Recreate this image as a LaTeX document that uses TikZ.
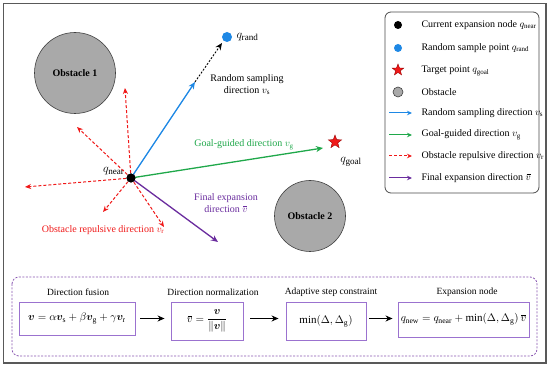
\documentclass[tikz,border=0pt]{standalone}
\usepackage{fontspec}
\setmainfont{Liberation Serif}
\usepackage{amsmath,bm}
\usetikzlibrary{arrows.meta,shapes.geometric}
\definecolor{cblue}{HTML}{1E88E5}
\definecolor{cgreen}{HTML}{1FA84A}
\definecolor{cred}{HTML}{F01818}
\definecolor{cpurple}{HTML}{6A2C9E}
\definecolor{cbox}{HTML}{9B72CF}
\definecolor{cgray}{HTML}{A9A9A9}
\newcommand{\myvbar}{\mkern1.5mu\overline{\mkern-1.5mu v\mkern-0.5mu}\mkern0.5mu}
\begin{document}
\begin{tikzpicture}[x=1pt,y=-1pt,
  every node/.style={font=\fontsize{10}{11.5}\selectfont},
  tip/.style={-{Stealth[length=7pt,width=6pt]}},
  arr/.style={tip,line width=1.3pt},
  rep/.style={-{Stealth[length=6pt,width=5pt]},line width=1pt,dash pattern=on 3pt off 2pt,draw=cred},
  obst/.style={circle,draw=black!75,fill=cgray,line width=0.6pt,font=\fontsize{10}{12}\selectfont\bfseries},
  dotnode/.style={circle,fill=black,inner sep=0pt,minimum size=9pt},
  bluedot/.style={circle,fill=cblue,inner sep=0pt,minimum size=10pt},
  starnode/.style={star,star points=5,star point ratio=2.4,fill=cred,draw=red!60!black,inner sep=0pt,minimum size=14pt},
  fbox/.style={draw=cbox,line width=0.9pt,fill=white,inner sep=2pt,font=\fontsize{11}{12}\selectfont},
  ftitle/.style={font=\fontsize{9.5}{11}\selectfont},
  legtxt/.style={anchor=west,font=\fontsize{10}{11}\selectfont}]
\useasboundingbox (0,0) rectangle (550,366);
\fill[white] (0,0) rectangle (550,366);
\draw[black!65,line width=1.2pt] (3.5,3.5) rectangle (546,363);

% obstacles
\node[obst,minimum size=81pt] (ob1) at (75,73) {Obstacle 1};
\node[obst,minimum size=71pt] (ob2) at (310,216) {Obstacle 2};

% points
\node[dotnode] (qn) at (131,178) {};
\node[bluedot] (qr) at (227,37) {};
\node[starnode] (qg) at (335,142) {};
\node[anchor=east,font=\fontsize{13}{14}\selectfont] (lqn) at (128,171) {$q_{\mathrm{near}}$};
\node[anchor=west,font=\fontsize{13}{14}\selectfont] (lqr) at (233,37) {$q_{\mathrm{rand}}$};
\node[font=\fontsize{13}{14}\selectfont] (lqg) at (351,162) {$q_{\mathrm{goal}}$};

% end coordinates
\coordinate (eb) at (195,82);
\coordinate (ed) at (222,43);
\coordinate (eg) at (323,148);
\coordinate (ep) at (218,242);
\coordinate (r1) at (125,88);
\coordinate (r2) at (77,127);
\coordinate (r3) at (25,187);
\coordinate (r4) at (103,212);
\coordinate (r5) at (164,227);

% repulsive arrows
\foreach \r in {r1,r2,r3,r4,r5} \draw[rep] (qn.center) -- (\r);
% main arrows
\draw[arr,draw=cblue] (qn.center) -- (eb);
\draw[tip,line width=0.9pt,dash pattern=on 2pt off 1.5pt] (eb) -- (ed);
\draw[arr,draw=cgreen] (qn.center) -- (eg);
\draw[arr,draw=cpurple] (qn.center) -- (ep);
\node[dotnode] at (qn) {};

% labels
\node[align=center] (lrs) at (247,85) {Random sampling\\direction $v_{\mathrm{s}}$};
\node[text=cgreen] (lgg) at (244,145) {Goal-guided direction $v_{\mathrm{g}}$};
\node[text=cpurple,align=center] (lfe) at (226,203) {Final expansion\\direction $\myvbar$};
\node[text=cred] (lor) at (103,230) {Obstacle repulsive direction $v_{\mathrm{r}}$};

% legend
\draw[black!70,line width=0.8pt,rounded corners=6pt,fill=white] (385,12) rectangle (539,193);
\node[dotnode,minimum size=8pt] (k1) at (398,25) {};
\node[legtxt] (t1) at (418,25) {Current expansion node $q_{\mathrm{near}}$};
\node[bluedot,minimum size=8pt] (k2) at (398,48) {};
\node[legtxt] (t2) at (418,48) {Random sample point $q_{\mathrm{rand}}$};
\node[starnode,minimum size=12pt] (k3) at (398,70) {};
\node[legtxt] (t3) at (418,71) {Target point $q_{\mathrm{goal}}$};
\node[circle,draw=black!75,fill=cgray,minimum size=10pt,inner sep=0pt,line width=0.6pt] (k4) at (398,92) {};
\node[legtxt] (t4) at (418,92) {Obstacle};
\coordinate (a5) at (389,113); \coordinate (b5) at (412,113);
\draw[-{Stealth[length=5pt,width=4.5pt]},line width=1pt,draw=cblue] (a5) -- (b5);
\node[legtxt] (t5) at (418,113) {Random sampling direction $v_{\mathrm{s}}$};
\coordinate (a6) at (389,135); \coordinate (b6) at (412,135);
\draw[-{Stealth[length=5pt,width=4.5pt]},line width=1pt,draw=cgreen] (a6) -- (b6);
\node[legtxt] (t6) at (418,135) {Goal-guided direction $v_{\mathrm{g}}$};
\coordinate (a7) at (389,156); \coordinate (b7) at (412,156);
\draw[-{Stealth[length=5pt,width=4.5pt]},line width=1pt,draw=cred,dash pattern=on 3pt off 2pt] (a7) -- (b7);
\node[legtxt] (t7) at (418,156) {Obstacle repulsive direction $v_{\mathrm{r}}$};
\coordinate (a8) at (389,178); \coordinate (b8) at (412,178);
\draw[-{Stealth[length=5pt,width=4.5pt]},line width=1pt,draw=cpurple] (a8) -- (b8);
\node[legtxt] (t8) at (418,178) {Final expansion direction $\myvbar$};

% bottom pipeline
\draw[cpurple!80,line width=0.8pt,dash pattern=on 2pt off 1.5pt,rounded corners=7pt] (12,277) rectangle (537,356);
\node[fbox,minimum width=116pt,minimum height=33pt] (b1) at (77,318.5) {$\bm{v}=\alpha\bm{v}_{\mathrm{s}}+\beta\bm{v}_{\mathrm{g}}+\gamma\bm{v}_{\mathrm{r}}$};
\node[fbox,minimum width=72pt,minimum height=38pt] (b2) at (207,321) {$\myvbar=\dfrac{\bm{v}}{\|\bm{v}\|}$};
\node[fbox,minimum width=80pt,minimum height=38pt] (b3) at (326,321) {$\min(\Delta,\Delta_{\mathrm{g}})$};
\node[fbox,minimum width=131pt,minimum height=35pt,inner sep=1pt] (b4) at (463.5,319.5) {$q_{\mathrm{new}}=q_{\mathrm{near}}+\min(\Delta,\Delta_{\mathrm{g}})\,\myvbar$};
\node[ftitle] (h1) at (78,292) {Direction fusion};
\node[ftitle] (h2) at (213,292) {Direction normalization};
\node[ftitle] (h3) at (331,292) {Adaptive step constraint};
\node[ftitle] (h4) at (467,292) {Expansion node};
\draw[tip,line width=1pt,shorten <=5pt,shorten >=6pt] (b1.east) -- (b1.east -| b2.west);
\draw[tip,line width=1pt,shorten <=7pt,shorten >=7pt] (b2.east |- b1.east) -- (b3.west |- b1.east);
\draw[tip,line width=1pt,shorten <=3pt,shorten >=5pt] (b3.east |- b1.east) -- (b4.west |- b1.east);
\end{tikzpicture}
\end{document}
